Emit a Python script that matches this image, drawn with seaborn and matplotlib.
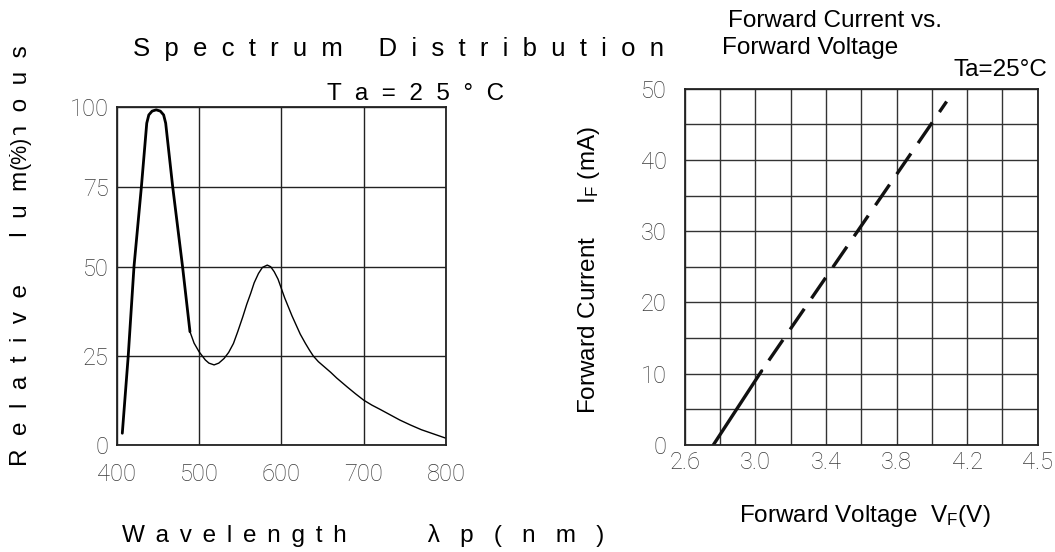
import numpy as np
import matplotlib
matplotlib.use("Agg")
import matplotlib.pyplot as plt
from matplotlib.ticker import MultipleLocator
import seaborn as sns

# ---------------- data ----------------
# Spectrum distribution (left panel)
blue_wl = [406.8, 414, 421, 430, 436.5, 439, 443, 448, 453, 457, 459.5, 468, 480, 489]
blue_rel = [3.3, 25, 50, 75, 95, 97.6, 98.8, 99.2, 98.8, 97.6, 95, 75, 50, 31.8]
phos_wl = [489, 494, 500, 507.6, 512, 518.3, 524, 530.4, 536, 541.8, 547, 553.2, 558,
           562.7, 567, 572.2, 577, 582.9, 587, 591.3, 596, 600, 604, 608.4, 613, 617.9,
           623, 629.3, 634, 638.8, 645, 652, 660, 667.3, 680, 690, 700, 710, 720, 732,
           744, 757, 770, 785, 800]
phos_rel = [31.8, 28.6, 26.2, 23.9, 23.0, 22.5, 23.0, 24.3, 26.0, 28.5, 31.8, 36.0, 39.5,
            42.5, 45.5, 48.1, 49.8, 50.5, 50.0, 48.6, 46.5, 43.9, 41.3, 38.8, 36.2, 33.7,
            31.1, 28.5, 26.7, 25.0, 23.4, 22.0, 20.4, 18.8, 16.3, 14.4, 12.6, 11.2, 10.0, 8.5,
            7.0, 5.6, 4.3, 3.1, 1.9]
spec_xticks = [400, 500, 600, 700, 800]
spec_yticks = [0, 25, 50, 75, 100]

# Forward current vs forward voltage (right panel)
vf_solid = [2.762, 3.036]
if_solid = [0, 10.4]
vf_dash = [3.036, 4.084]
if_dash = [10.4, 48.2]
iv_xticks = [2.6, 3.0, 3.4, 3.8, 4.2, 4.6]
iv_xticklabels = ["2.6", "3.0", "3.4", "3.8", "4.2", "4.5"]
iv_yticks = [0, 10, 20, 30, 40, 50]

# ---------------- style ----------------
sns.set_style("white")
plt.rcParams['font.family'] = ['Liberation Sans', 'DejaVu Sans']
plt.rcParams['text.color'] = 'black'
plt.rcParams['axes.linewidth'] = 1.3
plt.rcParams['axes.edgecolor'] = '#222222'

W, H = 1055, 552
fig = plt.figure(figsize=(W / 100, H / 100), dpi=100)
fig.patch.set_facecolor('white')


def fx(x):
    return x / W


def fy(y):
    return 1 - y / H


TICK_FONT = {'fontfamily': ['Roboto', 'DejaVu Sans'], 'fontweight': 'light',
             'fontsize': 17, 'color': '#3a3a3a'}
TXT = 17.5

# ---------------- left panel ----------------
ax1 = fig.add_axes([fx(116.7), fy(445), (446 - 116.7) / W, (445 - 107.3) / H])
# the printed grid is not evenly spaced; reproduce it with a piecewise-linear scale
g_vals = [-100, 0, 25, 50, 75, 100, 200]
g_pos = [-356, 0, 89, 178.3, 258.3, 337.7, 675.4]
ax1.set_yscale('function', functions=(lambda v: np.interp(v, g_vals, g_pos),
                                      lambda p: np.interp(p, g_pos, g_vals)))

sns.lineplot(x=blue_wl, y=blue_rel, ax=ax1, color='black', lw=2.0, sort=False, estimator=None)
sns.lineplot(x=phos_wl, y=phos_rel, ax=ax1, color='black', lw=1.0, sort=False, estimator=None)

ax1.set_xlim(400, 800)
ax1.set_ylim(0, 100)
ax1.set_xticks(spec_xticks)
ax1.set_yticks(spec_yticks)
ax1.set_xticklabels([str(v) for v in spec_xticks])
ax1.set_yticklabels([str(v) for v in spec_yticks])
ax1.grid(True, color='#222222', lw=1.0)
ax1.tick_params(axis='x', length=0, pad=13)
ax1.tick_params(axis='y', length=0, pad=6)
ax1.set_xlabel('')
ax1.set_ylabel('')
for lbl in ax1.get_xticklabels() + ax1.get_yticklabels():
    lbl.set(**TICK_FONT)

fig.text(fx(133), fy(56), "S  p  e  c  t  r  u  m     D  i  s  t  r  i  b  u  t  i  o  n",
         ha='left', va='baseline', fontsize=18.5)
fig.text(fx(327), fy(100), "T  a  =  2  5  °  C", ha='left', va='baseline', fontsize=TXT)
fig.text(fx(32), fy(256), "R  e  l  a  t  i  v  e       l  u  m  i  n  o  u  s",
         rotation=90, ha='right', va='center', fontsize=TXT)
fig.text(fx(31), fy(152), "(%)", rotation=90, ha='right', va='center', fontsize=TXT - 2,
         bbox=dict(facecolor='white', edgecolor='none', pad=0))
sp = " \u2006"
fig.text(fx(122), fy(542),
         sp.join("Wavelength") + " " * 12 + "   ".join("λp(nm)"),
         ha='left', va='baseline', fontsize=TXT)

# ---------------- right panel ----------------
ax2 = fig.add_axes([fx(684.7), fy(445), (1037.7 - 684.7) / W, (445 - 88.7) / H])
sns.lineplot(x=vf_solid, y=if_solid, ax=ax2, color='#111111', lw=2.4)
sns.lineplot(x=vf_dash, y=if_dash, ax=ax2, color='#111111', lw=2.4,
             linestyle=(7.5, (7.5, 3.8)))
ax2.set_xlim(2.6, 4.6)
ax2.set_ylim(0, 50)
ax2.set_xticks(iv_xticks)
ax2.set_xticklabels(iv_xticklabels)
ax2.set_yticks(iv_yticks)
ax2.set_yticklabels([str(v) for v in iv_yticks])
ax2.xaxis.set_minor_locator(MultipleLocator(0.2))
ax2.yaxis.set_minor_locator(MultipleLocator(5))
ax2.grid(True, which='both', color='#333333', lw=1.0)
ax2.tick_params(which='both', length=0)
ax2.tick_params(axis='x', pad=4)
ax2.tick_params(axis='y', pad=13)
ax2.set_xlabel('')
ax2.set_ylabel('')
for lbl in ax2.get_xticklabels() + ax2.get_yticklabels():
    lbl.set(**TICK_FONT)

fig.text(fx(728), fy(27), "Forward Current vs.", ha='left', va='baseline', fontsize=TXT)
fig.text(fx(722), fy(54), "Forward Voltage", ha='left', va='baseline', fontsize=TXT)
fig.text(fx(1047), fy(76), "Ta=25°C", ha='right', va='baseline', fontsize=TXT)
fig.text(fx(602), fy(270), r"Forward Current     $\mathregular{I_F}$ (mA)",
         rotation=90, ha='right', va='center', fontsize=TXT)
fig.text(fx(865), fy(522), r"Forward Voltage  $\mathregular{V_F}$(V)",
         ha='center', va='baseline', fontsize=TXT)

fig.savefig("out.png", dpi=100, facecolor='white')
